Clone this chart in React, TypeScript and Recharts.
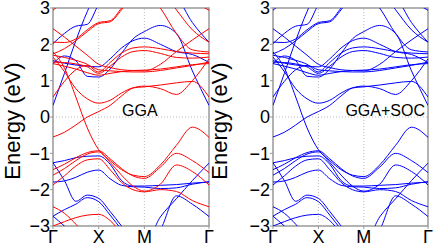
import { Line, LineChart, ReferenceArea, ReferenceLine, XAxis, YAxis } from "recharts";

// k-path: Γ -> X -> M -> Γ (square lattice, |MΓ| = √2 |ΓX|)
const kPath = [0, 0.25, 0.5, 0.75, 1, 1.25, 1.5, 1.75, 2, 2.35, 2.7, 3.05, 3.414];
const kTicks = [0, 1, 2, 3.414];
const kLabels = ["Γ", "X", "M", "Γ"];
const energyTicks = [-3, -2, -1, 0, 1, 2, 3];

// GGA, red bands
const r01 = [-0.55, -0.42, -0.22, 0.0, 0.15, 0.32, 0.58, 0.8, 0.85, 0.78, 0.62, 1.0, 1.6];
const r02 = [1.65, 1.25, 0.78, 0.5, 0.38, 0.46, 0.66, 0.8, 0.83, 0.88, 0.94, 0.98, 0.55];
const r03 = [1.79, 1.35, 0.55, -0.3, -0.9, -1.2, -1.45, -1.6, -1.64, -1.32, -0.78, -0.28, -0.56];
const r04 = [0.55, 0.98, 1.3, 1.42, 1.3, 1.27, 1.25, 1.24, 1.24, 1.28, 1.35, 1.42, 1.51];
const r05 = [1.47, 1.4, 1.32, 1.22, 1.15, 1.2, 1.25, 1.28, 1.29, 1.32, 1.38, 1.44, 1.47];
const r06 = [1.51, 1.5, 1.46, 1.38, 1.2, 1.4, 1.65, 1.8, 1.83, 1.75, 1.64, 1.62, 1.65];
const r07 = [1.7, 1.64, 1.56, 1.45, 1.24, 1.5, 1.76, 1.9, 1.93, 1.88, 1.8, 1.76, 1.74];
const r08 = [2.43, 2.2, 1.95, 1.7, 1.45, 1.36, 1.3, 1.28, 1.27, 1.45, 1.8, 2.12, 2.43];
const r09 = [2.06, 2.05, 2.15, 2.4, 2.6, 2.65, 3.0, 3.4, 3.5, 3.0, 2.3, 1.85, 1.79];
const r10 = [1.74, 1.88, 2.1, 2.35, 2.57, 2.62, 2.95, 3.35, 3.5, 3.5, 2.95, 2.4, 2.06];
const r11 = [2.94, 3.2, 3.5, 3.5, 3.5, 3.5, 3.5, 3.5, 3.5, 3.5, 3.5, 3.2, 2.94];
const r13 = [-1.45, -1.3, -1.12, -0.98, -0.93, -1.15, -1.42, -1.62, -1.69, -1.38, -1.0, -1.2, -1.53];
const r14 = [-1.6, -1.42, -1.2, -1.02, -0.96, -1.25, -1.6, -1.9, -2.04, -1.85, -1.32, -1.5, -1.87];
const r15 = [-1.87, -1.62, -1.35, -1.18, -1.15, -1.45, -1.8, -2.0, -2.06, -2.0, -2.05, -2.3, -2.47];
const r16 = [-3.0, -2.88, -2.77, -2.7, -2.68, -2.85, -3.2, -3.5, -3.5, -3.5, -3.5, -3.5, -3.5];
const r17 = [-2.47, -2.65, -2.95, -3.3, -3.5, -3.5, -3.5, -3.5, -3.5, -3.5, -3.3, -3.2, -3.2];

// GGA, blue bands
const b01 = [0.32, 1.2, 2.1, 2.9, 3.5, 3.5, 3.5, 3.5, 3.5, 3.5, 3.5, 3.5, 3.5];
const b02 = [1.47, 1.68, 1.55, 1.12, 1.1, 1.32, 1.75, 2.15, 2.35, 2.52, 2.3, 1.27, 0.32];
const b03 = [2.02, 2.3, 2.5, 2.55, 3.1, 3.5, 3.5, 3.5, 3.5, 3.5, 3.3, 2.6, 2.06];
const b04 = [1.55, 1.48, 1.43, 1.4, 1.38, 1.6, 1.9, 2.1, 2.17, 2.0, 1.8, 1.72, 1.5];
const b05 = [-1.26, -1.2, -1.12, -1.08, -1.07, -1.3, -1.75, -1.9, -1.9, -1.88, -1.86, -1.82, -1.79];
const b06 = [-1.26, -1.75, -2.32, -2.15, -2.24, -2.6, -3.0, -3.4, -3.5, -3.5, -3.5, -3.5, -3.5];
const b07 = [-1.79, -1.76, -1.66, -1.52, -1.46, -1.7, -1.88, -1.92, -1.93, -1.97, -1.95, -1.85, -1.78];
const b08 = [-3.3, -3.5, -3.5, -3.5, -3.5, -3.5, -3.5, -3.5, -3.5, -3.1, -2.17, -2.4, -2.74];
const b09 = [-2.73, -3.0, -3.3, -3.5, -3.5, -3.5, -3.5, -3.5, -3.5, -2.75, -2.25, -1.75, -1.27];
const b10 = [-2.73, -2.55, -2.4, -2.22, -2.33, -2.7, -3.1, -3.5, -3.5, -3.5, -3.5, -3.5, -3.3];

const redBands = [r01, r02, r03, r04, r05, r06, r07, r08, r09, r10, r11, r13, r14, r15, r16, r17];
const blueBands = [b01, b02, b03, b04, b05, b06, b07, b08, b09, b10];

const RED = "#ff0000";
const BLUE = "#0000ff";
const FRAME = "#999999";
const FONT = "'Liberation Sans', Arial, sans-serif";

type Series = { key: string; color: string };

function buildRows(bands: number[][]) {
  return kPath.map((k, i) => {
    const row: Record<string, number> = { k };
    bands.forEach((band, j) => {
      row["e" + j] = band[i];
    });
    return row;
  });
}

const allBands = [...blueBands, ...redBands];
const rows = buildRows(allBands);
const ggaSeries: Series[] = allBands.map((band, j) => ({
  key: "e" + j,
  color: j < blueBands.length ? BLUE : RED,
}));
// SOC panel: same bands, all drawn in blue
const socSeries: Series[] = allBands.map((band, j) => ({ key: "e" + j, color: BLUE }));

const fmtEnergy = (v: number) => (v < 0 ? `\u2212${-v}` : `${v}`);
const fmtK = (v: number) => kLabels[kTicks.indexOf(v)] ?? "";

type PanelProps = { series: Series[]; width: number; right: number };

function BandPanel({ series, width, right }: PanelProps) {
  return (
    <LineChart width={width} height={247} data={rows} margin={{ top: 8, right, bottom: 0, left: 25 }}>
      <XAxis
        dataKey="k"
        type="number"
        domain={[0, 3.414]}
        ticks={kTicks}
        interval={0}
        tickFormatter={fmtK}
        height={21}
        tickSize={3}
        tickMargin={1}
        axisLine={false}
        tickLine={{ stroke: FRAME }}
        tick={{ fill: "#000", fontSize: 18, fontFamily: FONT }}
        allowDataOverflow
      />
      <YAxis
        type="number"
        domain={[-3, 3]}
        ticks={energyTicks}
        interval={0}
        tickFormatter={fmtEnergy}
        width={28}
        tickSize={3}
        tickMargin={0}
        axisLine={false}
        tickLine={{ stroke: FRAME }}
        tick={{ fill: "#000", fontSize: 18, fontFamily: FONT }}
        allowDataOverflow
      />
      <ReferenceLine y={0} stroke="#aaa" strokeWidth={0.8} strokeDasharray="1 2" />
      <ReferenceLine x={1} stroke="#aaa" strokeWidth={0.8} strokeDasharray="1 2" />
      <ReferenceLine x={2} stroke="#aaa" strokeWidth={0.8} strokeDasharray="1 2" />
      {series.map((s) => (
        <Line
          key={s.key}
          dataKey={s.key}
          type="monotone"
          stroke={s.color}
          strokeWidth={1}
          dot={false}
          activeDot={false}
          isAnimationActive={false}
        />
      ))}
      <ReferenceArea x1={0} x2={3.414} y1={-3} y2={3} fill="none" stroke={FRAME} strokeWidth={1.5} />
    </LineChart>
  );
}

export default function App() {
  return (
    <div style={{ position: "absolute", left: 0, top: 0, width: 436, height: 247, background: "#fff" }}>
      <div style={{ position: "absolute", left: 0, top: 0 }}>
        <BandPanel series={ggaSeries} width={220} right={11} />
      </div>
      <div style={{ position: "absolute", left: 220, top: 0 }}>
        <BandPanel series={socSeries} width={216} right={8} />
      </div>
      <svg
        width={436}
        height={247}
        style={{ position: "absolute", left: 0, top: 0, pointerEvents: "none" }}
        fontFamily={FONT}
      >
        <text x={20} y={121} fontSize={22} textAnchor="middle" transform="rotate(-90 20 121)">
          Energy (eV)
        </text>
        <text x={227} y={121} fontSize={22} textAnchor="middle" transform="rotate(-90 227 121)">
          Energy (eV)
        </text>
        <text x={122} y={116} fontSize={16}>
          GGA
        </text>
        <text x={425} y={116} fontSize={16} textAnchor="end">
          GGA+SOC
        </text>
      </svg>
    </div>
  );
}
